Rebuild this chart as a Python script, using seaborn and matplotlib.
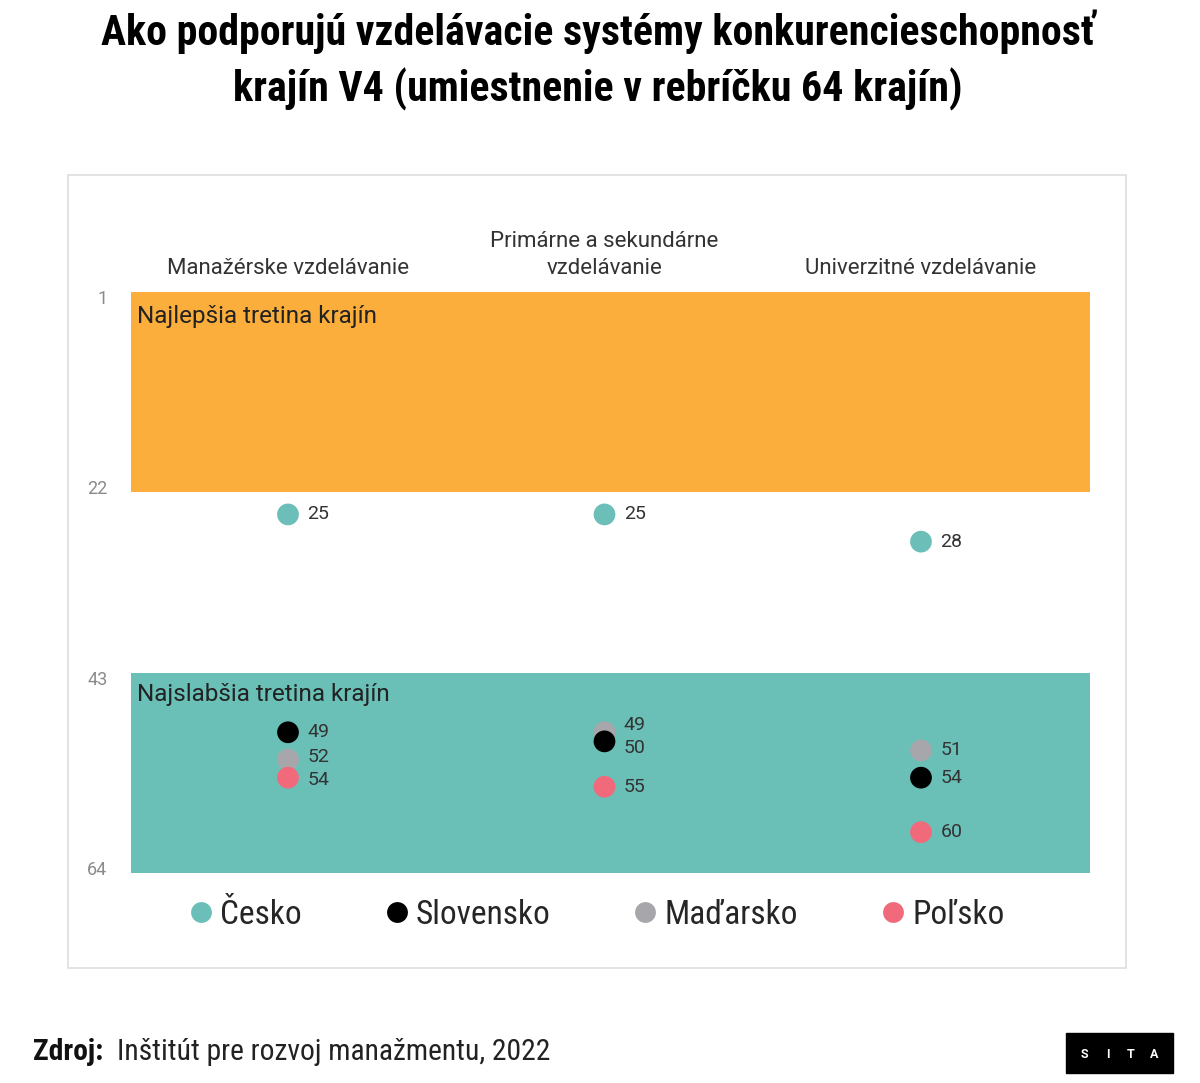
import matplotlib
matplotlib.use("Agg")
import matplotlib.pyplot as plt
from matplotlib import font_manager as fm
from matplotlib.patches import Rectangle
from matplotlib.lines import Line2D
import seaborn as sns
import pandas as pd

# ---------------- data ----------------
title = "Ako podporujú vzdelávacie systémy konkurencieschopnosť\nkrajín V4 (umiestnenie v rebríčku 64 krajín)"
categories = ["Manažérske vzdelávanie", "Primárne a sekundárne\nvzdelávanie", "Univerzitné vzdelávanie"]
countries = ["Česko", "Slovensko", "Maďarsko", "Poľsko"]
cesko = [25, 25, 28]
slovensko = [49, 50, 54]
madarsko = [52, 49, 51]
polsko = [54, 55, 60]
band_labels = ["Najlepšia tretina krajín", "Najslabšia tretina krajín"]
best_third = (1, 22)
worst_third = (43, 64)
y_ticks = [1, 22, 43, 64]
source_label = "Zdroj:"
source_text = "Inštitút pre rozvoj manažmentu, 2022"
logo_letters = ["S", "I", "T", "A"]

colors = {"Česko": "#6bbfb8", "Slovensko": "#000000", "Maďarsko": "#a7a6ab", "Poľsko": "#f06a7c"}
orange = "#fbae3b"
teal = "#6abfb7"
draw_order = ["Česko", "Maďarsko", "Poľsko", "Slovensko"]

# ---------------- fonts ----------------
def pick_font(weight, condensed=True):
    cands = []
    if condensed:
        cands = [dict(family="Roboto Condensed"), dict(family="Liberation Sans Narrow"),
                 dict(family="Noto Sans", stretch="condensed"), dict(family="Open Sans", stretch="condensed"),
                 dict(family="DejaVu Sans", stretch="condensed")]
    for c in cands:
        try:
            p = fm.findfont(fm.FontProperties(weight=weight, **c), fallback_to_default=False)
        except Exception:
            continue
        n = p.lower()
        if "condensed" in n or "narrow" in n:
            return p
    return fm.findfont(fm.FontProperties(family="Roboto", weight=weight))

cond_bold = pick_font("bold")
cond_reg = pick_font("normal")

def fp(path, size):
    return fm.FontProperties(fname=path, size=size)

sns.set_theme(style="white")
plt.rcParams["font.family"] = ["Roboto", "DejaVu Sans"]

W, H = 1200, 1083
fig = plt.figure(figsize=(W / 100, H / 100), dpi=100)
fig.patch.set_facecolor("white")

def fx(px):
    return px / W

def fy(py):
    return 1 - py / H

# frame
fig.add_artist(Rectangle((fx(68), fy(968)), fx(1126) - fx(68), fy(175) - fy(968),
                         transform=fig.transFigure, fill=False, edgecolor="#dedede", lw=1.2))

ax = fig.add_axes([fx(131), fy(873), fx(1090) - fx(131), fy(292) - fy(873)])

# data frame
series = {"Česko": cesko, "Slovensko": slovensko, "Maďarsko": madarsko, "Poľsko": polsko}
rows = []
for c in draw_order:
    for ci, cat in enumerate(categories):
        rows.append({"pos": ci, "category": cat, "country": c, "rank": series[c][ci]})
df = pd.DataFrame(rows)

# bands
ax.axhspan(best_third[0] - 0.5, best_third[1] + 0.5, color=orange, zorder=0, lw=0)
ax.axhspan(worst_third[0] - 0.5, worst_third[1] + 0.5, color=teal, zorder=0, lw=0)

sns.scatterplot(data=df, x="pos", y="rank", hue="country", hue_order=countries,
                palette=colors, s=245, edgecolor="none", legend=False, ax=ax, zorder=3)

ax.set_xlim(-0.496, 2.534)
ax.set_ylim(worst_third[1] + 0.5, best_third[0] - 0.5)
for s in ax.spines.values():
    s.set_visible(False)
ax.set_xlabel("")
ax.set_ylabel("")
ax.xaxis.tick_top()
ax.set_xticks(range(len(categories)))
ax.set_xticklabels(categories, color="#333333", fontsize=16, linespacing=1.4)
ax.set_yticks(y_ticks)
ax.set_yticklabels([str(t) for t in y_ticks], color="#8a8a8a", fontsize=13)
ax.tick_params(axis="x", length=0, pad=9)
ax.tick_params(axis="y", length=0, pad=17)
ax.grid(False)

# value labels with simple de-overlap
for ci in range(len(categories)):
    sub = df[df.pos == ci].sort_values("rank")
    ranks = list(sub["rank"].astype(float))
    ly = ranks[:]
    for i in range(1, len(ly)):
        if ly[i] - ly[i - 1] < 2.5:
            m = (ranks[i] + ranks[i - 1]) / 2
            ly[i - 1] = m - 1.25
            ly[i] = m + 1.25
    for (_, r), yv in zip(sub.iterrows(), ly):
        ax.annotate(str(int(r["rank"])), xy=(r["pos"], yv), xytext=(14, 0), textcoords="offset points",
                    va="center", ha="left", fontsize=14, color="#333333", zorder=4)

# band labels
ax.annotate(band_labels[0], xy=(0, best_third[0] - 0.5), xycoords=("axes fraction", "data"),
            xytext=(4.5, -9), textcoords="offset points", va="top", ha="left", fontsize=17.5, color="#222222")
ax.annotate(band_labels[1], xy=(0, worst_third[0] - 0.5), xycoords=("axes fraction", "data"),
            xytext=(4.5, -7), textcoords="offset points", va="top", ha="left", fontsize=17.5, color="#222222")

# legend
handles = [Line2D([0], [0], marker="o", linestyle="none", markersize=15, markerfacecolor=colors[c],
                  markeredgecolor="none") for c in countries]
fig.legend(handles, countries, loc="center", bbox_to_anchor=(fx(596), fy(915)), ncol=4, frameon=False,
           prop=fp(cond_reg, 24), handlelength=0.8, handletextpad=0.18, columnspacing=2.44)

# title
fig.text(fx(598), fy(60), title, ha="center", va="center", fontproperties=fp(cond_bold, 30.2),
         linespacing=1.4, color="#000000")

# source
fig.text(fx(33), fy(1052), source_label, ha="left", va="center", fontproperties=fp(cond_bold, 21.3), color="#111111")
fig.text(fx(117), fy(1052), source_text, ha="left", va="center", fontproperties=fp(cond_reg, 21.3), color="#222222")

# logo
fig.add_artist(Rectangle((fx(1066), fy(1073)), fx(1173) - fx(1066), fy(1033) - fy(1073),
                         transform=fig.transFigure, color="#000000"))
for i, L in enumerate(logo_letters):
    fig.text(fx(1084 + i * 23.5), fy(1054), L, ha="center", va="center", color="white",
             fontsize=9, fontweight="bold")

fig.savefig("out.png", dpi=100, facecolor="white")
